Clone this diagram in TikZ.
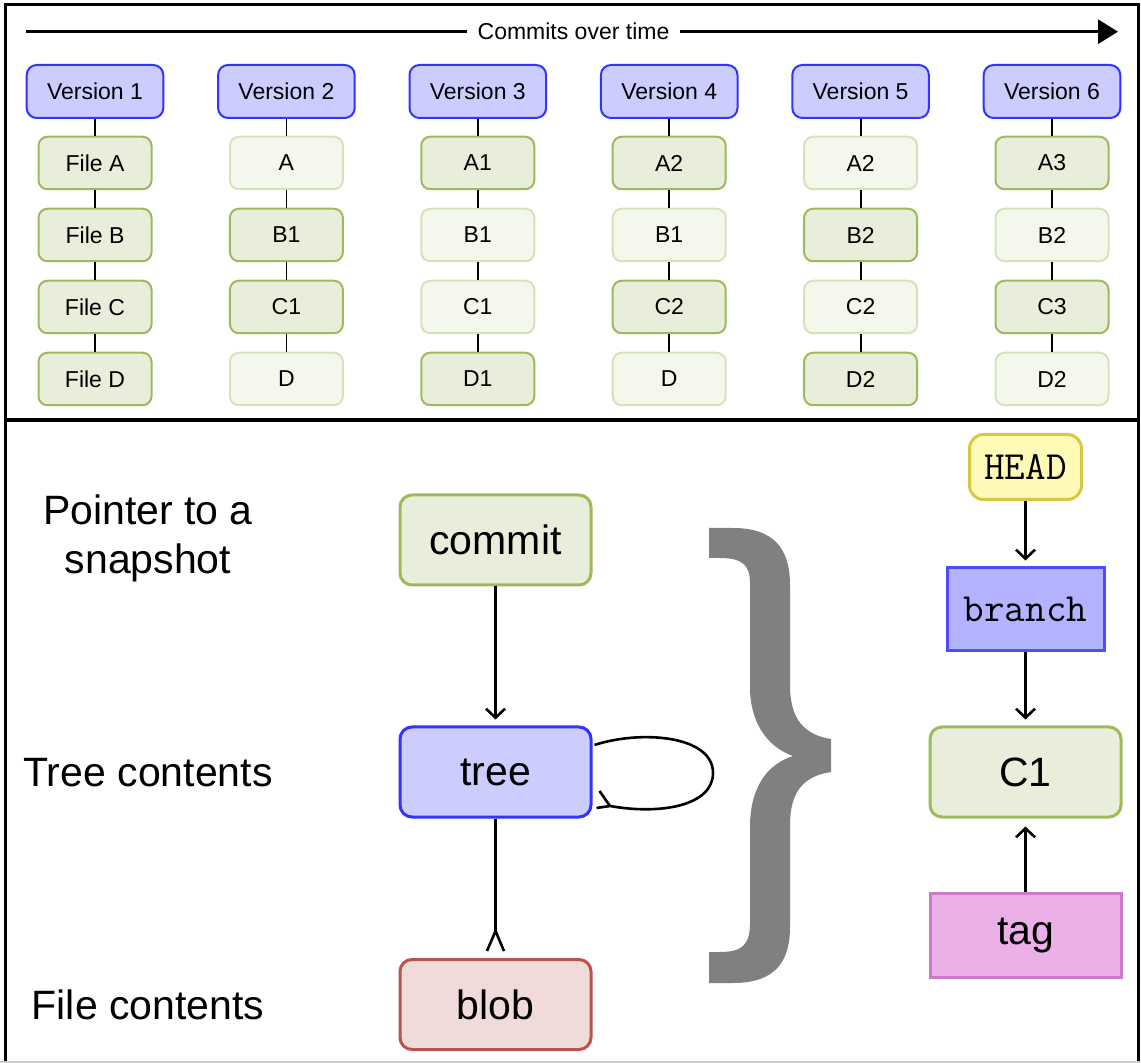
\documentclass[tikz,border=0pt]{standalone}
\usepackage{fontspec}
\setmainfont{Liberation Sans}
\usetikzlibrary{arrows.meta}
\definecolor{verfill}{HTML}{CCCCFF}
\definecolor{verdraw}{HTML}{3333FF}
\definecolor{dkfill}{HTML}{E9EEDA}
\definecolor{dkdraw}{HTML}{9CBA5C}
\definecolor{ltfill}{HTML}{F4F7EC}
\definecolor{ltdraw}{HTML}{D5E2BA}
\definecolor{blobfill}{HTML}{F0DADA}
\definecolor{blobdraw}{HTML}{B85450}
\definecolor{headfill}{HTML}{FFFAB5}
\definecolor{headdraw}{HTML}{D6C842}
\definecolor{brfill}{HTML}{B3B3FF}
\definecolor{brdraw}{HTML}{4D4DFF}
\definecolor{tagfill}{HTML}{EBB0E8}
\definecolor{tagdraw}{HTML}{CC7ACC}
\definecolor{bracegray}{HTML}{808080}
\begin{document}
\begin{tikzpicture}[x=0.5pt,y=-0.5pt,
  smallfont/.style={font=\fontsize{11.5}{13}\selectfont},
  bigfont/.style={font=\fontsize{20.5}{24.5}\selectfont},
  ver/.style={draw=verdraw, fill=verfill, line width=1pt, rounded corners=5pt,
    minimum width=68.3pt, minimum height=26.5pt, inner sep=0pt, smallfont},
  fdk/.style={draw=dkdraw, fill=dkfill, line width=1pt, rounded corners=4.5pt,
    minimum width=56.5pt, minimum height=26.25pt, inner sep=0pt, smallfont},
  flt/.style={fdk, draw=ltdraw, fill=ltfill},
  tick/.style={line width=0.9pt},
  bigbox/.style={line width=1.5pt, rounded corners=6pt, minimum width=95.5pt,
    minimum height=45pt, inner sep=0pt, bigfont},
  greenbox/.style={bigbox, draw=dkdraw, fill=dkfill},
  treebox/.style={bigbox, draw=verdraw, fill=verfill},
  blobbox/.style={bigbox, draw=blobdraw, fill=blobfill},
  headbox/.style={draw=headdraw, fill=headfill, line width=1.5pt, rounded corners=7pt,
    minimum width=56pt, minimum height=32.5pt, inner sep=0pt,
    font=\fontsize{20}{24}\ttfamily},
  brbox/.style={draw=brdraw, fill=brfill, line width=1.5pt,
    minimum width=78.5pt, minimum height=41.5pt, inner sep=0pt,
    font=\fontsize{20}{24}\ttfamily},
  tagbox/.style={draw=tagdraw, fill=tagfill, line width=1.5pt,
    minimum width=95.5pt, minimum height=42pt, inner sep=0pt, bigfont},
  arr/.style={line width=1.3pt, -{Straight Barb[length=4.5pt,width=9.5pt]}, shorten >=3pt},
  conn/.style={line width=1.3pt},
  frame/.style={line width=1.5pt},
  timeline/.style={line width=1.5pt, -{Triangle[length=10pt,width=12pt]}}
]
\useasboundingbox (0,0) rectangle (1141,1063);

% frames
\draw[frame] (5,5) rectangle (1138,420);
\draw[line width=2pt] (5,420) -- (1138,420);
\draw[frame] (5,420) -- (5,1061) (1138,420) -- (1138,1061);
\draw[black!20, line width=0.8pt] (0,1062) -- (1141,1062);

% timeline
\coordinate (tls) at (26,31.7);
\coordinate (tle) at (1118,31.7);
\draw[timeline] (tls) -- (tle);
\node[fill=white, smallfont, inner xsep=5.5pt, inner ysep=2pt] (ct) at (573.5,31.7) {Commits over time};

% versions
\foreach \i/\x/\sa/\ta/\sb/\tb/\sc/\tc/\sd/\td in {
  1/95/fdk/File A/fdk/File B/fdk/File C/fdk/File D,
  2/286.4/flt/A/fdk/B1/fdk/C1/flt/D,
  3/477.8/fdk/A1/flt/B1/flt/C1/fdk/D1,
  4/669.2/fdk/A2/flt/B1/fdk/C2/flt/D,
  5/860.6/flt/A2/fdk/B2/flt/C2/fdk/D2,
  6/1052/fdk/A3/flt/B2/fdk/C3/flt/D2}{
  \node[ver] (v\i) at (\x,91.5) {Version \i};
  \node[\sa] (a\i) at (\x,163) {\ta};
  \node[\sb] (b\i) at (\x,235) {\tb};
  \node[\sc] (c\i) at (\x,307) {\tc};
  \node[\sd] (d\i) at (\x,379) {\td};
  \draw[tick] (v\i) -- (a\i) (a\i) -- (b\i) (b\i) -- (c\i) (c\i) -- (d\i);
}

% left labels
\node[bigfont, align=center] (lp) at (148,538) {Pointer to a\\snapshot};
\node[bigfont] (lt) at (148,773) {Tree contents};
\node[bigfont] (lf) at (148,1005) {File contents};

% object model
\node[greenbox] (commit) at (495.5,540) {commit};
\node[treebox] (tree) at (495.5,772) {tree};
\node[blobbox] (blob) at (495.5,1004.5) {blob};

\draw[arr] (commit) -- (tree);
\draw[conn] (tree.south) -- ([yshift=13.5pt]blob.north) coordinate (bapex);
\draw[conn] ([xshift=-4.25pt,yshift=3.5pt]blob.north) -- (bapex) -- ([xshift=4.25pt,yshift=3.5pt]blob.north);

\draw[conn] ([xshift=1pt,yshift=13.5pt]tree.east) .. controls (640,730) and (713,735) .. (713,773)
  .. controls (713,806) and (660,815) .. (610,806) coordinate (lapex)
  -- ([xshift=2pt,yshift=-18pt]tree.east);
\draw[conn] (lapex) -- ([xshift=3.5pt,yshift=-9.5pt]tree.east);

% brace
\fill[bracegray] (709,528) -- (733,528) .. controls (775,528) and (790,550) .. (790,585)
  -- (790,685) .. controls (790,720) and (805,735) .. (831,739)
  -- (831,772) .. controls (805,776) and (790,790) .. (790,825)
  -- (790,927) .. controls (790,962) and (775,983) .. (733,983)
  -- (709,983) -- (709,952) -- (720,952) .. controls (742,952) and (750,945) .. (750,923)
  -- (750,827) .. controls (750,790) and (765,765) .. (793,756)
  .. controls (765,746) and (750,720) .. (750,687)
  -- (750,583) .. controls (750,565) and (742,558) .. (720,558)
  -- (709,558) -- cycle;

% refs
\node[headbox] (head) at (1025.5,467) {HEAD};
\node[brbox] (branch) at (1025.5,609.5) {branch};
\node[greenbox] (c1) at (1025.5,772) {C1};
\node[tagbox] (tag) at (1025.5,935) {tag};
\draw[arr] (head) -- (branch);
\draw[arr] (branch) -- (c1);
\draw[arr, shorten >=4pt] (tag) -- (c1);
\end{tikzpicture}
\end{document}
